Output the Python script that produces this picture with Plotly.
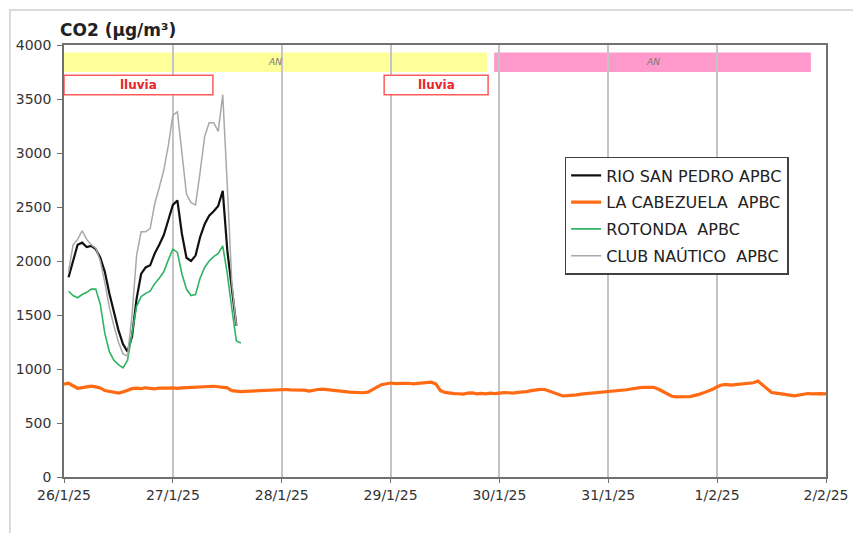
import pandas as pd
import plotly.graph_objects as go

# ---------------- data ----------------
short_start = "2025-01-26 01:00"
long_start = "2025-01-26 00:00"

rio_san_pedro = [1850, 2000, 2150, 2170, 2130, 2140, 2110, 2030, 1900, 1700,
                 1520, 1360, 1230, 1160, 1300, 1650, 1880, 1940, 1960, 2070,
                 2150, 2240, 2380, 2520, 2560, 2250, 2030, 2000, 2050, 2220,
                 2340, 2420, 2460, 2510, 2650, 2100, 1750, 1400]

rotonda = [1720, 1680, 1660, 1690, 1710, 1740, 1740, 1600, 1330, 1160,
           1080, 1040, 1010, 1080, 1330, 1580, 1670, 1700, 1720, 1790,
           1840, 1900, 2010, 2110, 2080, 1880, 1740, 1680, 1690, 1840,
           1940, 2000, 2040, 2070, 2140, 1880, 1560, 1260, 1240]

club_nautico = [1900, 2150, 2200, 2280, 2200, 2150, 2120, 2000, 1800, 1570,
                1400, 1250, 1140, 1120, 1500, 2050, 2270, 2270, 2300, 2530,
                2680, 2840, 3070, 3350, 3380, 2980, 2620, 2540, 2520, 2820,
                3150, 3280, 3280, 3200, 3540, 2700, 1800, 1400]

la_cabezuela = [
    860, 868, 845, 822, 828, 832, 842, 835, 825, 800, 790, 782,
    776, 788, 805, 818, 822, 818, 826, 820, 816, 824, 820, 823,
    826, 821, 825, 826, 830, 829, 833, 834, 838, 840, 836, 836,
    825, 800, 794, 790, 793, 795, 801, 802, 806, 804, 809, 810,
    813, 810, 807, 806, 809, 804, 795, 806, 810, 813, 807, 806,
    800, 796, 790, 786, 782, 784, 780, 786, 805, 832, 855, 866,
    870, 864, 862, 866, 868, 863, 867, 870, 875, 878, 860, 800,
    783, 775, 772, 771, 768, 776, 778, 770, 774, 770, 776, 772,
    779, 782, 780, 777, 783, 785, 791, 800, 809, 812, 810, 795,
    775, 760, 750, 753, 755, 761, 768, 772, 776, 778, 781, 785,
    790, 793, 795, 801, 808, 815, 823, 828, 831, 832, 830, 815,
    790, 765, 748, 742, 740, 743, 745, 752, 765, 779, 792, 812,
    835, 852, 857, 851, 855, 859, 862, 866, 873, 888, 850, 810,
    782, 776, 772, 766, 758, 752, 761, 770, 773, 769, 772, 772,
    770]

series_names = ["RIO SAN PEDRO APBC", "LA CABEZUELA  APBC", "ROTONDA  APBC", "CLUB NAÚTICO  APBC"]

y_ticks = [0, 500, 1000, 1500, 2000, 2500, 3000, 3500, 4000]
x_ticks = ["2025-01-26", "2025-01-27", "2025-01-28", "2025-01-29",
           "2025-01-30", "2025-01-31", "2025-02-01", "2025-02-02"]

# period bands: (start, end, label, colour)
periods_an = [("2025-01-26 00:00", "2025-01-29 21:15", "AN", "#FFFF99"),
              ("2025-01-29 22:50", "2025-02-01 20:40", "AN", "#FF99CC")]
periods_rain = [("2025-01-26 00:00", "2025-01-27 08:50", "lluvia"),
                ("2025-01-28 22:35", "2025-01-29 21:30", "lluvia")]

# ---------------- figure ----------------
t_short = pd.date_range(short_start, periods=len(club_nautico), freq="h")
t_rot = pd.date_range(short_start, periods=len(rotonda), freq="h")
t_long = pd.date_range(long_start, periods=len(la_cabezuela), freq="h")

fig = go.Figure()
fig.add_trace(go.Scatter(x=t_short[:len(rio_san_pedro)], y=rio_san_pedro, mode="lines",
                         name=series_names[0], legendgroup="a",
                         line=dict(color="#111111", width=2.2)))
fig.add_trace(go.Scatter(x=t_long, y=la_cabezuela, mode="lines",
                         name=series_names[1], legendgroup="b",
                         line=dict(color="#FF6A13", width=3.2)))
fig.add_trace(go.Scatter(x=t_rot, y=rotonda, mode="lines",
                         name=series_names[2], legendgroup="c",
                         line=dict(color="#2EB463", width=1.6)))
fig.add_trace(go.Scatter(x=t_short, y=club_nautico, mode="lines",
                         name=series_names[3], legendgroup="d",
                         line=dict(color="#A8A8A8", width=1.5)))

shapes = []
annotations = []
for s, e, lab, col in periods_an:
    shapes.append(dict(type="rect", xref="x", yref="y", x0=s, x1=e, y0=3750, y1=3930,
                       fillcolor=col, line=dict(width=0), layer="below"))
    mid = pd.Timestamp(s) + (pd.Timestamp(e) - pd.Timestamp(s)) / 2
    annotations.append(dict(x=mid, y=3840, xref="x", yref="y", text="<i>" + lab + "</i>",
                            showarrow=False,
                            font=dict(family="DejaVu Sans", size=9, color="#777777")))
for s, e, lab in periods_rain:
    shapes.append(dict(type="rect", xref="x", yref="y", x0=s, x1=e, y0=3540, y1=3720,
                       fillcolor="white", line=dict(color="#FF5A5A", width=1.5), layer="above"))
    mid = pd.Timestamp(s) + (pd.Timestamp(e) - pd.Timestamp(s)) / 2
    annotations.append(dict(x=mid, y=3630, xref="x", yref="y", text="<b>" + lab + "</b>",
                            showarrow=False,
                            font=dict(family="DejaVu Sans", size=12, color="#E8262B")))

# outer chart frame (top & left visible)
shapes.append(dict(type="rect", xref="paper", yref="paper", x0=-0.071, x1=1.08, y0=-0.2, y1=1.081,
                   line=dict(color="#CFCFCF", width=1.5), fillcolor="rgba(0,0,0,0)", layer="below"))

# the page body adds an 8px offset, so the figure is 8px smaller on each side
fig.update_layout(
    width=853, height=525,
    margin=dict(l=56, r=35, t=37, b=56),
    paper_bgcolor="white", plot_bgcolor="white",
    title=dict(text="<b>CO2 (µg/m³)</b>", xref="container", yref="container",
               x=52 / 853, xanchor="left", y=1 - 22 / 525, yanchor="middle",
               font=dict(family="DejaVu Sans", size=17, color="#222222")),
    shapes=shapes, annotations=annotations,
    showlegend=True,
    legend=dict(x=0.657, y=0.741, xanchor="left", yanchor="top",
                bgcolor="white", bordercolor="#404040", borderwidth=1.5,
                font=dict(family="DejaVu Sans", size=16, color="#222222"),
                traceorder="grouped", tracegroupgap=3, itemwidth=30),
)
fig.update_xaxes(range=["2025-01-26", "2025-02-02"], tickvals=x_ticks, tickformat="%-d/%-m/%y",
                 showgrid=True, gridcolor="#C4C4C4", gridwidth=1.5,
                 showline=True, linecolor="#707070", linewidth=1.5, mirror=True,
                 ticks="outside", ticklen=4, tickcolor="#707070", automargin=False,
                 tickfont=dict(family="DejaVu Sans", size=14, color="#333333"),
                 zeroline=False)
fig.update_yaxes(range=[0, 4000], tickvals=y_ticks, showgrid=False,
                 showline=True, linecolor="#707070", linewidth=1.5, mirror=True,
                 ticks="outside", ticklen=5, tickcolor="#707070", ticklabelstandoff=3,
                 automargin=False,
                 tickfont=dict(family="DejaVu Sans", size=14, color="#333333"),
                 zeroline=False)

fig.write_html("out.html")
